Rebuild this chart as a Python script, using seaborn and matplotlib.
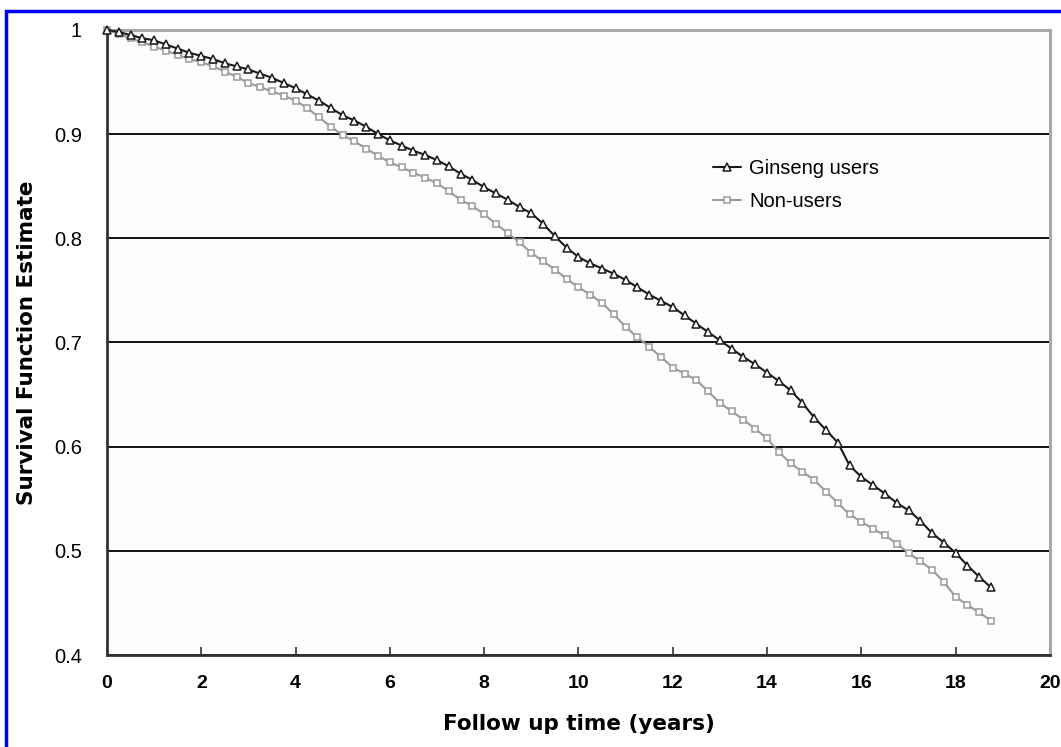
import matplotlib
matplotlib.use("Agg")
import matplotlib.pyplot as plt
from matplotlib.patches import Rectangle
import seaborn as sns
import pandas as pd

# Follow up time (years), every quarter year
years = [
    0.00, 0.25, 0.50, 0.75, 1.00, 1.25, 1.50, 1.75,
    2.00, 2.25, 2.50, 2.75, 3.00, 3.25, 3.50, 3.75,
    4.00, 4.25, 4.50, 4.75, 5.00, 5.25, 5.50, 5.75,
    6.00, 6.25, 6.50, 6.75, 7.00, 7.25, 7.50, 7.75,
    8.00, 8.25, 8.50, 8.75, 9.00, 9.25, 9.50, 9.75,
    10.00, 10.25, 10.50, 10.75, 11.00, 11.25, 11.50, 11.75,
    12.00, 12.25, 12.50, 12.75, 13.00, 13.25, 13.50, 13.75,
    14.00, 14.25, 14.50, 14.75, 15.00, 15.25, 15.50, 15.75,
    16.00, 16.25, 16.50, 16.75, 17.00, 17.25, 17.50, 17.75,
    18.00, 18.25, 18.50, 18.75,
]

ginseng_users = [
    1.000, 0.998, 0.995, 0.992, 0.990, 0.986, 0.982, 0.978,
    0.975, 0.972, 0.968, 0.965, 0.962, 0.958, 0.954, 0.949,
    0.944, 0.938, 0.932, 0.925, 0.918, 0.913, 0.907, 0.900,
    0.894, 0.889, 0.884, 0.880, 0.875, 0.869, 0.862, 0.856,
    0.849, 0.843, 0.837, 0.830, 0.824, 0.814, 0.802, 0.791,
    0.782, 0.776, 0.771, 0.766, 0.760, 0.753, 0.746, 0.740,
    0.734, 0.726, 0.718, 0.710, 0.702, 0.694, 0.686, 0.679,
    0.671, 0.663, 0.654, 0.642, 0.628, 0.616, 0.604, 0.582,
    0.571, 0.563, 0.555, 0.546, 0.539, 0.529, 0.517, 0.508,
    0.498, 0.486, 0.475, 0.465,
]

non_users = [
    1.000, 0.996, 0.992, 0.988, 0.984, 0.980, 0.976, 0.972,
    0.969, 0.965, 0.960, 0.955, 0.949, 0.945, 0.941, 0.937,
    0.932, 0.925, 0.916, 0.907, 0.899, 0.893, 0.886, 0.879,
    0.873, 0.868, 0.863, 0.858, 0.853, 0.845, 0.837, 0.831,
    0.823, 0.814, 0.805, 0.796, 0.786, 0.778, 0.770, 0.761,
    0.753, 0.746, 0.738, 0.727, 0.715, 0.705, 0.696, 0.686,
    0.676, 0.670, 0.664, 0.653, 0.642, 0.634, 0.626, 0.617,
    0.608, 0.595, 0.584, 0.576, 0.568, 0.557, 0.546, 0.535,
    0.528, 0.521, 0.515, 0.507, 0.498, 0.490, 0.482, 0.470,
    0.456, 0.448, 0.441, 0.433,
]

x_ticks = [0, 2, 4, 6, 8, 10, 12, 14, 16, 18, 20]
y_ticks = [0.4, 0.5, 0.6, 0.7, 0.8, 0.9, 1.0]
y_tick_labels = ["0.4", "0.5", "0.6", "0.7", "0.8", "0.9", "1"]

df = pd.DataFrame({"years": years, "Ginseng users": ginseng_users, "Non-users": non_users})

sns.set_theme(style="white")
plt.rcParams["font.family"] = ["Liberation Sans", "DejaVu Sans"]
plt.rcParams["text.color"] = "black"
plt.rcParams["xtick.color"] = "black"
plt.rcParams["ytick.color"] = "black"
plt.rcParams["axes.labelcolor"] = "black"

fig = plt.figure(figsize=(10.61, 7.47), dpi=100)
fig.patch.set_facecolor("white")
ax = fig.add_axes([0.1008, 0.123, 0.8888, 0.837])
ax.set_facecolor("#fdfdfd")

# curves
sns.lineplot(data=df, x="years", y="Ginseng users", ax=ax, color="#1a1a1a",
             marker="^", markersize=5.5, mfc="white", mec="#1a1a1a", mew=1.1,
             lw=1.5, label="Ginseng users", clip_on=False, zorder=4)
sns.lineplot(data=df, x="years", y="Non-users", ax=ax, color="#9a9a9a",
             marker="s", markersize=4.8, mfc="white", mec="#9a9a9a", mew=1.1,
             lw=1.5, label="Non-users", clip_on=False, zorder=3)

ax.set_xlim(0, 20)
ax.set_ylim(0.4, 1.0)
ax.set_xticks(x_ticks)
ax.set_xticklabels([str(t) for t in x_ticks], fontweight="bold", fontsize=14)
ax.set_yticks(y_ticks)
ax.set_yticklabels(y_tick_labels, fontsize=14.5)
ax.tick_params(axis="x", direction="in", length=6, width=1.2, color="#333333", pad=14, bottom=True)
ax.tick_params(axis="y", length=0, pad=18)

ax.yaxis.grid(True, color="black", lw=1.3)
ax.xaxis.grid(False)

for side in ["left", "bottom"]:
    ax.spines[side].set_color("#333333")
    ax.spines[side].set_linewidth(2)
for side in ["top", "right"]:
    ax.spines[side].set_color("#a8a8a8")
    ax.spines[side].set_linewidth(2.2)

ax.set_xlabel("Follow up time (years)", fontsize=15.5, fontweight="bold",
              family="DejaVu Sans", labelpad=16)
ax.set_ylabel("Survival Function Estimate", fontsize=15.5, fontweight="bold",
              family="DejaVu Sans", labelpad=12)

ax.legend(loc="center left", bbox_to_anchor=(0.632, 0.752), frameon=False, borderpad=0,
          fontsize=14.5, handlelength=1.4, handletextpad=0.4, labelspacing=0.7)

# blue frame around the figure
fig.patches.append(Rectangle((0.0057, -0.02), 1.05, 1.005, transform=fig.transFigure,
                             fill=False, edgecolor="#0000ff", lw=2.5))

plt.savefig("out.png", dpi=100)
